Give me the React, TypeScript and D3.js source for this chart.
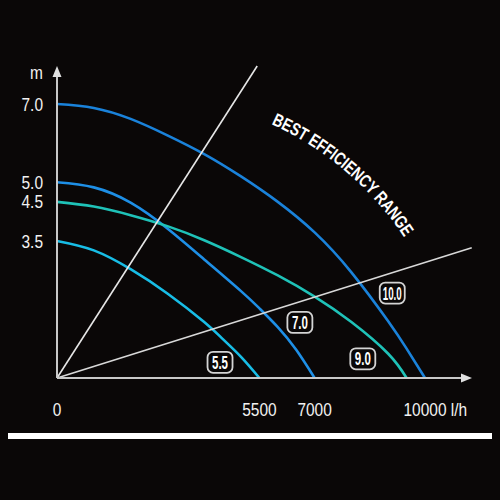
import React from "react";
import * as d3 from "d3";

// Pump curves: flow (l/h) vs head (m)
const flow10 = [0, 1000, 2000, 3000, 4000, 5000, 6000, 7000, 8000, 9000, 9500, 10000];
const head10 = [7.0, 6.9, 6.62, 6.2, 5.72, 5.15, 4.5, 3.72, 2.7, 1.45, 0.75, 0];

const flow9 = [0, 1000, 2000, 3000, 4000, 5000, 6000, 7000, 8000, 9000, 9500];
const head9 = [4.5, 4.38, 4.16, 3.88, 3.52, 3.09, 2.62, 2.08, 1.43, 0.62, 0];

const flow7 = [0, 1000, 2000, 3000, 4000, 5000, 5500, 6000, 6500, 7000];
const head7 = [5.0, 4.87, 4.48, 3.82, 3.03, 2.22, 1.78, 1.3, 0.72, 0];

const flow55 = [0, 1000, 2000, 3000, 4000, 4500, 5000, 5500];
const head55 = [3.5, 3.26, 2.78, 2.16, 1.43, 1.0, 0.54, 0];

// Best-efficiency range boundary lines (from origin)
const rangeFlow = [5440, 11270];
const rangeHead = [7.97, 3.33];

// Model badges
const badgeNames = ["10.0", "7.0", "9.0", "5.5"];
const badgeFlow = [9110, 6600, 8310, 4430];
const badgeHead = [2.17, 1.42, 0.49, 0.4];

// Ticks
const yTicks = [7.0, 5.0, 4.5, 3.5];
const yTickLabels = ["7.0", "5.0", "4.5", "3.5"];
const xTicks = [0, 5500, 7000, 10000];
const xTickLabels = ["0", "5500", "7000", "10000"];

const FONT = "'Liberation Sans', Arial, Helvetica, sans-serif";
const BG = "#0a0707";
const NARROW = 0.86;
const FS = 18;

function NText(props: {
  x: number;
  y: number;
  anchor?: string;
  children: React.ReactNode;
}) {
  return (
    <text
      transform={`translate(${props.x},${props.y}) scale(${NARROW},1)`}
      textAnchor={props.anchor || "start"}
      fill="#f2f2f2"
      fontFamily={FONT}
      fontSize={FS}
    >
      {props.children}
    </text>
  );
}

export default function App() {
  if (typeof document !== "undefined") {
    document.body.style.margin = "0";
    document.body.style.background = BG;
  }
  const x = d3.scaleLinear().domain([0, 10000]).range([57, 425]);
  const y = d3.scaleLinear().domain([0, 7]).range([378, 104]);

  const line = d3
    .line<[number, number]>()
    .x((d) => x(d[0]))
    .y((d) => y(d[1]))
    .curve(d3.curveNatural);

  const curves = [
    { f: flow10, h: head10, color: "#1a82da" },
    { f: flow7, h: head7, color: "#1e8fe6" },
    { f: flow9, h: head9, color: "#1fc2b8" },
    { f: flow55, h: head55, color: "#18bde6" },
  ];

  const x0 = x(0);
  const y0 = y(0);
  const labelY = 416;
  const tenW = 5 * 0.556 * FS * NARROW;

  return (
    <svg
      width={500}
      height={500}
      style={{ position: "absolute", left: 0, top: 0, display: "block" }}
    >
      <rect x={0} y={0} width={500} height={500} fill={BG} />

      {/* curves */}
      {curves.map((c, i) => (
        <path
          key={i}
          d={line(c.f.map((f, j) => [f, c.h[j]] as [number, number])) || ""}
          fill="none"
          stroke={c.color}
          strokeWidth={2.6}
        />
      ))}

      {/* range lines */}
      {rangeFlow.map((f, i) => (
        <line
          key={i}
          x1={x0}
          y1={y0}
          x2={x(f)}
          y2={y(rangeHead[i])}
          stroke={i === 0 ? "#e6e6e6" : "#d8d8d8"}
          strokeWidth={1.6}
        />
      ))}

      {/* axes */}
      <line x1={x0} y1={y0} x2={x0} y2={74} stroke="#c8c8c8" strokeWidth={2} />
      <path d={`M${x0},66 L${x0 - 4.5},77 L${x0 + 4.5},77 Z`} fill="#e0e0e0" />
      <line x1={x0} y1={y0} x2={463} y2={y0} stroke="#c8c8c8" strokeWidth={2} />
      <path d={`M472,${y0} L461,${y0 - 4.5} L461,${y0 + 4.5} Z`} fill="#e0e0e0" />

      {/* y tick labels */}
      {yTicks.map((t, i) => (
        <NText key={i} x={43} y={y(t) + 6.5} anchor="end">
          {yTickLabels[i]}
        </NText>
      ))}
      <NText x={43} y={79} anchor="end">
        m
      </NText>

      {/* x tick labels */}
      {xTicks.map((t, i) =>
        i === xTicks.length - 1 ? (
          <NText key={i} x={x(t) - tenW / 2} y={labelY} anchor="start">
            {xTickLabels[i] + " l/h"}
          </NText>
        ) : (
          <NText key={i} x={x(t)} y={labelY} anchor="middle">
            {xTickLabels[i]}
          </NText>
        )
      )}

      {/* curved label */}
      <defs>
        <path id="berArc" d="M271.2,124 A317.3,317.3 0 0 1 404,237" />
      </defs>
      <text fill="#ffffff" fontFamily={FONT} fontSize={18} fontWeight="bold">
        <textPath href="#berArc" textLength={177} lengthAdjust="spacingAndGlyphs">
          BEST EFFICIENCY RANGE
        </textPath>
      </text>

      {/* badges */}
      {badgeNames.map((n, i) => {
        const cx = x(badgeFlow[i]);
        const cy = y(badgeHead[i]);
        return (
          <g key={i}>
            <rect
              x={cx - 12.5}
              y={cy - 10.5}
              width={25}
              height={21}
              rx={5.5}
              fill={BG}
              stroke="#d4d4d4"
              strokeWidth={1.8}
            />
            <text
              x={cx}
              y={cy}
              dy="0.36em"
              textAnchor="middle"
              fill="#ffffff"
              fontFamily={FONT}
              fontWeight="bold"
              fontSize={18}
              textLength={n.length === 4 ? 19 : 16}
              lengthAdjust="spacingAndGlyphs"
            >
              {n}
            </text>
          </g>
        );
      })}

      {/* bottom bar */}
      <rect x={8} y={433} width={484} height={6} fill="#ffffff" />
    </svg>
  );
}
